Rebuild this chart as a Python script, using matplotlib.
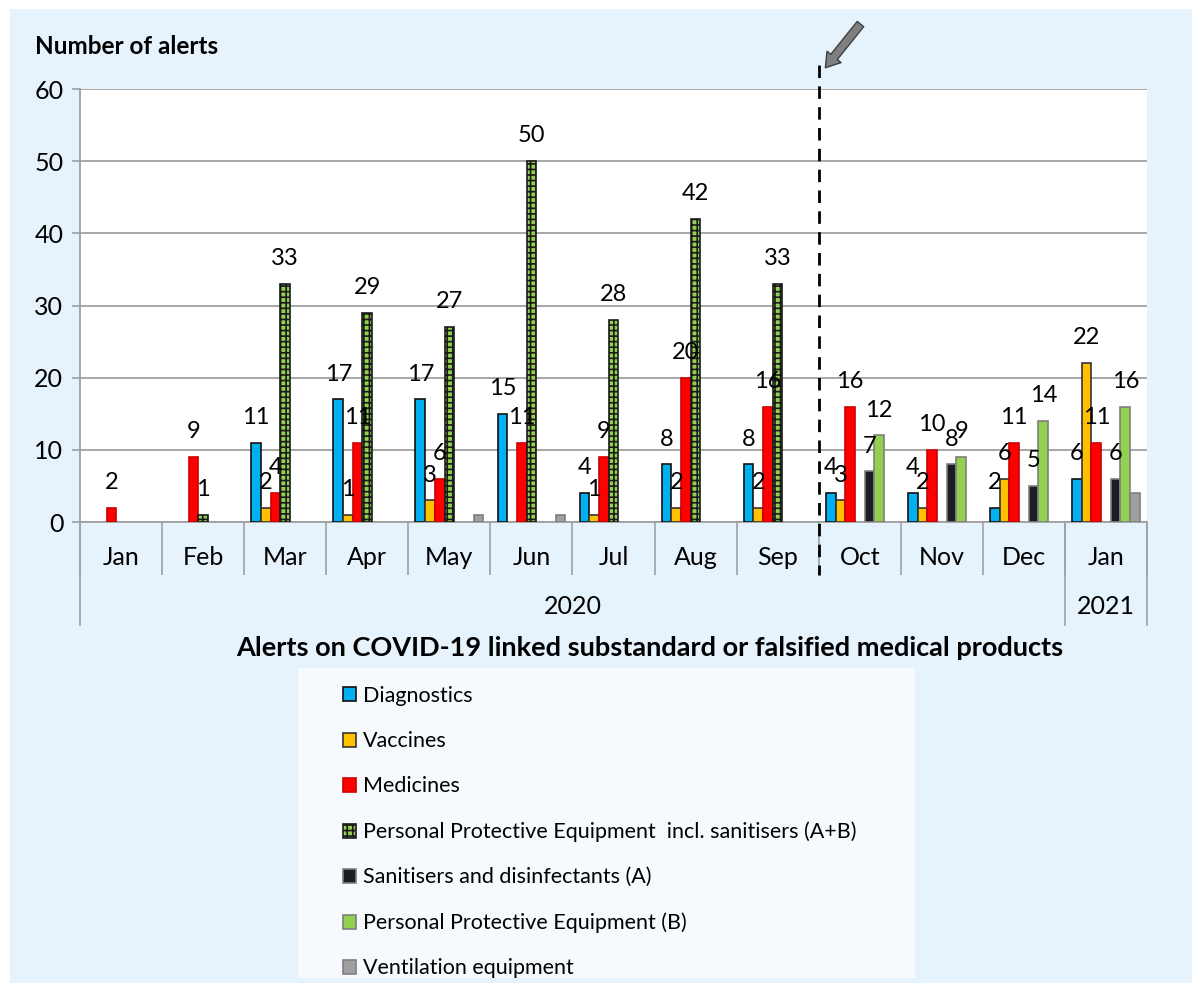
import numpy as np
import matplotlib
matplotlib.use("Agg")
import matplotlib.pyplot as plt
from matplotlib.patches import Rectangle
import matplotlib.transforms as mtransforms

plt.rcParams['font.family'] = ['Lato', 'DejaVu Sans']
plt.rcParams['hatch.linewidth'] = 1.2

months = ['Jan', 'Feb', 'Mar', 'Apr', 'May', 'Jun', 'Jul', 'Aug', 'Sep',
          'Oct', 'Nov', 'Dec', 'Jan']
years = ['2020', '2021']
year_len = [12, 1]

diagnostics = [0, 0, 11, 17, 17, 15, 4, 8, 8, 4, 4, 2, 6]
vaccines = [0, 0, 2, 1, 3, 0, 1, 2, 2, 3, 2, 6, 22]
medicines = [2, 9, 4, 11, 6, 11, 9, 20, 16, 16, 10, 11, 11]
ppe_ab = [0, 1, 33, 29, 27, 50, 28, 42, 33, 0, 0, 0, 0]
sanitisers = [0, 0, 0, 0, 0, 0, 0, 0, 0, 7, 8, 5, 6]
ppe_b = [0, 0, 0, 0, 0, 0, 0, 0, 0, 12, 9, 14, 16]
ventilation = [0, 0, 0, 0, 1, 1, 0, 0, 0, 0, 0, 0, 4]

series = [
    ("Diagnostics", diagnostics, '#00B0F0', '#111111', None, True),
    ("Vaccines", vaccines, '#FFC000', '#333333', None, True),
    ("Medicines", medicines, '#FF0000', '#D00000', None, True),
    ("Personal Protective Equipment  incl. sanitisers (A+B)", ppe_ab, '#92D050', '#1a1a1a', '+++', True),
    ("Sanitisers and disinfectants (A)", sanitisers, '#1C1C24', '#7F7F7F', None, True),
    ("Personal Protective Equipment (B)", ppe_b, '#92D050', '#7F7F7F', None, True),
    ("Ventilation equipment", ventilation, '#A0A0A0', '#7F7F7F', None, False),
]

W, H = 1192, 983
fig = plt.figure(figsize=(W / 100, H / 100), dpi=100, facecolor='white')

def fx(px):
    return px / W

def fy(py):
    return 1 - py / H

# light blue panel
fig.patches.append(Rectangle((fx(10), 0), 1 - fx(10), fy(9), transform=fig.transFigure,
                             facecolor='#E6F3FC', edgecolor='none', zorder=-10))
# legend background
fig.patches.append(Rectangle((fx(298), fy(978)), fx(915 - 298), (978 - 668) / H,
                             transform=fig.transFigure, facecolor='#F6FAFE',
                             edgecolor='none', zorder=-9))

ax = fig.add_axes([fx(80), fy(522), fx(1147 - 80), (522 - 89) / H])
ax.set_facecolor('white')

x = np.arange(len(months))
w = 0.118
handles = []
for k, (name, vals, fc, ec, hatch, labelled) in enumerate(series):
    pos = x + (k - 3) * w
    vals = np.array(vals, dtype=float)
    heights = np.where(vals > 0, vals, np.nan)  # empty slots draw nothing
    bars = ax.bar(pos, heights, width=w, color=fc, edgecolor=ec, linewidth=1.2,
                  hatch=hatch, label=name, zorder=3)
    handles.append(bars)
    if labelled:
        for xp, v in zip(pos, vals):
            if v > 0:
                ax.annotate(str(int(v)), (xp, v), xytext=(0, 13.5), textcoords='offset points',
                            ha='center', va='baseline', fontsize=17, color='black',
                            annotation_clip=False, zorder=5)

ax.set_xlim(-0.5, len(months) - 0.5)
ax.set_ylim(0, 60)
ax.set_yticks(np.arange(0, 61, 10))
ax.tick_params(axis='y', labelsize=18, length=6, color='#A0A0A0', width=1.2, pad=6)
ax.yaxis.grid(True, color='#A0A0A0', linewidth=1.3, zorder=0)
ax.set_axisbelow(True)
for s in ['top', 'right']:
    ax.spines[s].set_visible(False)
for s in ['left', 'bottom']:
    ax.spines[s].set_color('#A0A0A0')
    ax.spines[s].set_linewidth(1.3)

# category axis: separators and labels
bounds = np.arange(-0.5, len(months), 1.0)
ax.set_xticks(bounds)
ax.set_xticklabels([''] * len(bounds))
ax.tick_params(axis='x', length=38, color='#A0A0A0', width=1.2)

trans = mtransforms.blended_transform_factory(ax.transData, ax.transAxes)
for i, m in enumerate(months):
    ax.text(i, -0.081, m, transform=trans, ha='center', va='center', fontsize=18)

start = 0
edges = [-0.5]
for yname, n in zip(years, year_len):
    ax.text(start + (n - 1) / 2, -0.194, yname, transform=trans, ha='center',
            va='center', fontsize=18)
    start += n
    edges.append(start - 0.5)
for e in edges:
    ax.plot([e, e], [0, -0.238], transform=trans, color='#A0A0A0', linewidth=1.2,
            clip_on=False)

# dashed divider between Sep and Oct, with arrow
ax.plot([8.5, 8.5], [1.055, -0.122], transform=trans, color='black', linewidth=2,
        linestyle=(0, (4.5, 3)), clip_on=False, zorder=6)
ax.annotate('', xy=(8.56, 1.044), xytext=(9.03, 1.155), xycoords=trans, textcoords=trans,
            arrowprops=dict(arrowstyle='simple,head_width=1.3,head_length=1.0,tail_width=0.6',
                            fc='#7F7F7F', ec='#404040', lw=1), annotation_clip=False)

fig.text(fx(35), fy(47), 'Number of alerts', fontsize=17.5, fontweight='bold',
         ha='left', va='center')
fig.text(fx(650), fy(648), 'Alerts on COVID-19 linked substandard or falsified medical products',
         fontsize=19.5, fontweight='bold', ha='center', va='center')

fig.legend(handles=handles, loc='upper left', bbox_to_anchor=(fx(343), fy(686)),
           bbox_transform=fig.transFigure, frameon=False, fontsize=15.5,
           handlelength=0.62, handleheight=0.62, handletextpad=0.3,
           labelspacing=1.17, borderpad=0, borderaxespad=0)

fig.savefig('out.png', dpi=100, facecolor='white')
